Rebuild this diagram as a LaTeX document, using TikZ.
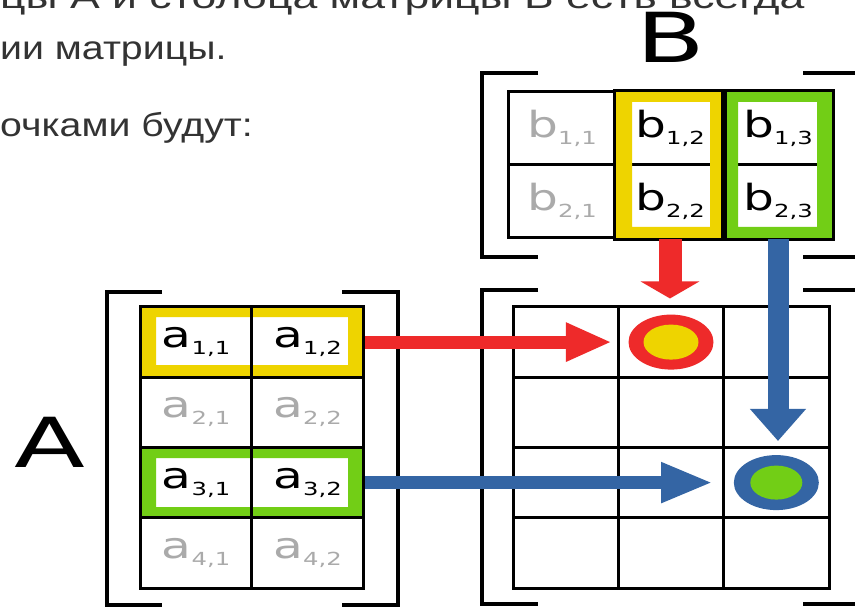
\documentclass[tikz,border=0pt]{standalone}
\usepackage{fontspec}
\setmainfont{Liberation Sans}
\newfontfamily\dejavu{DejaVu Sans}
\usetikzlibrary{arrows.meta}

\definecolor{hlyellow}{RGB}{238,212,0}
\definecolor{hlgreen}{RGB}{114,206,22}
\definecolor{arrred}{RGB}{238,42,42}
\definecolor{arrblue}{RGB}{52,101,164}
\definecolor{txtgrey}{RGB}{51,51,51}
\definecolor{dimgrey}{RGB}{170,170,170}

% matrix entry: letter with a two-index subscript, set a little wide
\newcommand\mentry[3]{\scalebox{1.35}[1]{{\fontsize{36}{36}\selectfont #1}\raisebox{-7pt}{\fontsize{18}{18}\selectfont #2,#3}}}
% wide body text
\newcommand\widetext[2]{\scalebox{#1}[1]{#2}}

\tikzset{
  gridcell/.style={draw=black, line width=3pt, inner sep=0pt, font=\dejavu},
  cellA/.style={gridcell, minimum width=111.5pt, minimum height=70.25pt},
  cellB/.style={gridcell, minimum width=108pt, minimum height=73pt},
  cellC/.style={gridcell, minimum width=105.33pt, minimum height=70.25pt},
  dim/.style={text=dimgrey},
  bracket/.style={draw=black, line width=4.5pt, line join=miter},
  bodytext/.style={anchor=base west, inner sep=0pt, text=txtgrey, font=\fontsize{33}{33}\selectfont},
  biglabel/.style={anchor=base, inner sep=0pt, font=\dejavu\fontsize{69}{69}\selectfont},
  redshaft/.style={draw=arrred, line width=13pt},
  blueshaft/.style={draw=arrblue, line width=13pt},
}

\begin{document}
\begin{tikzpicture}[x=1pt, y=-1pt]
  \useasboundingbox (0,0) rectangle (855,607);
  \fill[white] (0,0) rectangle (855,607);

  % text of the page
  \node[bodytext] (line1) at (0,9) {\widetext{1.35}{цы А и столбца матрицы В есть всегда}};
  \node[bodytext] (line2) at (0,60) {\widetext{1.19}{ии матрицы.}};
  \node[bodytext] (line3) at (0,137) {\widetext{1.19}{очками будут:}};

  % matrix names
  \node[biglabel] (labA) at (50,467) {\scalebox{1.5}[1]{A}};
  \node[biglabel] (labB) at (671,63) {\scalebox{1.45}[1]{B}};

  % ---------- matrix A (4 x 2) ----------
  % highlighted rows: coloured band with a white inner field
  \fill[hlyellow, even odd rule] (140,307) rectangle (363,377.25) (156,317) rectangle (348,365);
  \fill[hlgreen,  even odd rule] (140,447.5) rectangle (363,517.75) (156,458) rectangle (348,507);

  \node[cellA] (a11) at (196,342.1)    {\mentry{a}{1}{1}};
  \node[cellA] (a12) at (307.5,342.1)  {\mentry{a}{1}{2}};
  \node[cellA, dim] (a21) at (196,412.4)    {\mentry{a}{2}{1}};
  \node[cellA, dim] (a22) at (307.5,412.4)  {\mentry{a}{2}{2}};
  \node[cellA] (a31) at (196,482.6)    {\mentry{a}{3}{1}};
  \node[cellA] (a32) at (307.5,482.6)  {\mentry{a}{3}{2}};
  \node[cellA, dim] (a41) at (196,552.9)    {\mentry{a}{4}{1}};
  \node[cellA, dim] (a42) at (307.5,552.9)  {\mentry{a}{4}{2}};

  \draw[bracket] (162,292) -- (107,292) -- (107,605) -- (162,605);
  \draw[bracket] (342,292) -- (398,292) -- (398,605) -- (342,605);

  % ---------- matrix B (2 x 3) ----------
  \node[cellB, dim] (b11) at (562,128.5) {\mentry{b}{1}{1}};
  \node[cellB, dim] (b21) at (562,201.5) {\mentry{b}{2}{1}};
  \node[cellB] (b12) at (670,128.5) {\mentry{b}{1}{2}};
  \node[cellB] (b22) at (670,201.5) {\mentry{b}{2}{2}};
  \node[cellB] (b13) at (778,128.5) {\mentry{b}{1}{3}};
  \node[cellB] (b23) at (778,201.5) {\mentry{b}{2}{3}};

  % highlighted columns drawn over the grid, then their outline again
  \fill[hlyellow, even odd rule] (b12.north west) rectangle (b22.south east) (632,102) rectangle (710,227);
  \fill[hlgreen,  even odd rule] (b13.north west) rectangle (b23.south east) (738,102) rectangle (817,227);
  \draw[black, line width=3pt] (b12.north west) rectangle (b22.south east);
  \draw[black, line width=3pt] (b13.north west) rectangle (b23.south east);

  \draw[bracket] (538,73) -- (482,73) -- (482,257) -- (538,257);
  \draw[bracket] (803,73) -- (857,73) -- (857,257) -- (803,257);

  % ---------- product matrix (4 x 3) ----------
  \foreach \r/\y in {1/342.1, 2/412.4, 3/482.6, 4/552.9}{
    \node[cellC] (c\r1) at (565.67,\y) {};
    \node[cellC] (c\r2) at (671,\y) {};
    \node[cellC] (c\r3) at (776.33,\y) {};
  }

  \draw[bracket] (538,290) -- (482,290) -- (482,604) -- (538,604);
  \draw[bracket] (803,290) -- (857,290) -- (857,604) -- (803,604);

  % result markers
  \fill[arrred]   (c12.center) ellipse [x radius=42.5, y radius=27.5];
  \fill[hlyellow] (c12.center) ellipse [x radius=27.5, y radius=17.5];
  \fill[arrblue]  (c33.center) ellipse [x radius=42.5, y radius=27.5];
  \fill[hlgreen]  (c33.center) ellipse [x radius=26, y radius=17];

  % ---------- connectors ----------
  \draw[redshaft, -{Triangle[length=46pt, width=36pt]}, shorten >=5pt] (a12.east) -- (c12.west);
  \draw[blueshaft, -{Triangle[length=52pt, width=37pt]}, shorten >=9pt] (a32.east) -- (c33.west);
  \draw[redshaft, line width=23pt, -{Triangle[length=17pt, width=58pt]}, shorten >=7pt]
    (b22.south) -- (b22.south |- c12.north);
  \draw[blueshaft, line width=21pt, -{Triangle[length=32pt, width=54pt]}, shorten >=5pt]
    (b23.south) -- (b23.south |- c33.north);
\end{tikzpicture}
\end{document}
